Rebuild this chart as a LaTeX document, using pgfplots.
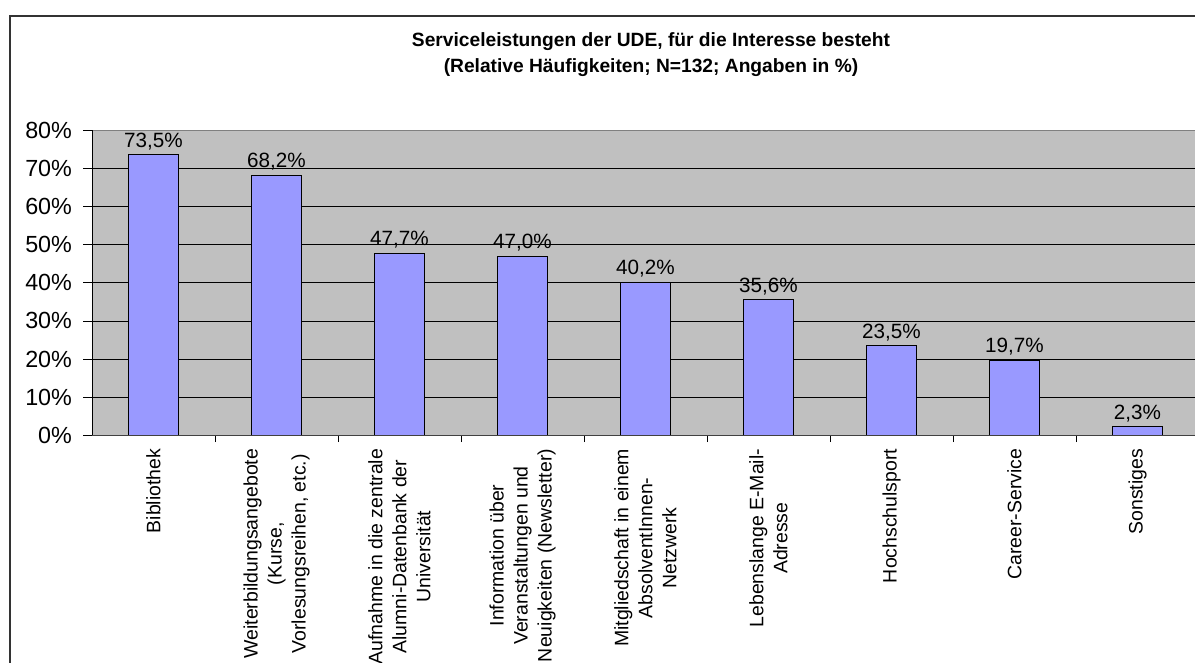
\documentclass[border=0pt]{standalone}
\usepackage{fontspec}
\setmainfont{Liberation Sans}
\usepackage{pgfplots}
\pgfplotsset{compat=1.18}
\definecolor{plotgray}{HTML}{C0C0C0}
\definecolor{barblue}{HTML}{9999FF}
\definecolor{framegray}{HTML}{808080}
\begin{document}
\begin{tikzpicture}[x=0.75pt,y=0.75pt]
\useasboundingbox (0,0) rectangle (1195,663);
\clip (0,0) rectangle (1195,663);
\fill[white] (0,0) rectangle (1195,663);
\draw[line width=1.4pt, black!80] (10,-30) -- (10,647) -- (1230,647);
\node[anchor=base, font=\bfseries\fontsize{14.4}{17}\selectfont, inner sep=0pt] at (651,616) {Serviceleistungen der UDE, für die Interesse besteht};
\node[anchor=base, font=\bfseries\fontsize{14.4}{17}\selectfont, inner sep=0pt] at (651,590) {(Relative Häufigkeiten; N=132; Angaben in \%)};
\begin{axis}[
  at={(69pt,170.625pt)}, anchor=south west, scale only axis,
  width=830.25pt, height=229.125pt,
  xmin=0, xmax=9, ymin=0, ymax=80,
  axis background/.style={fill=plotgray},
  axis line style={draw=framegray, line width=0.6pt},
  ybar, bar width=0.4,
  xtick={0.5,1.5,2.5,3.5,4.5,5.5,6.5,7.5,8.5},
  xticklabels={
    {Bibliothek},
    {Weiterbildungsangebote\\(Kurse,\\Vorlesungsreihen, etc.)},
    {Aufnahme in die zentrale\\Alumni-Datenbank der\\Universität},
    {Information über\\Veranstaltungen und\\Neuigkeiten (Newsletter)},
    {Mitgliedschaft in einem\\AbsolventInnen-\\Netzwerk},
    {Lebenslange E-Mail-\\Adresse},
    {Hochschulsport},
    {Career-Service},
    {Sonstiges}},
  minor xtick={1,2,3,4,5,6,7,8},
  major x tick style={draw=none},
  xtick pos=bottom, ytick pos=left,
  tick align=outside,
  major tick length=6.5pt, minor tick length=5pt,
  ytick={0,10,20,30,40,50,60,70,80},
  yticklabel={\pgfmathprintnumber{\tick}\%},
  ymajorgrids,
  grid style={black, line width=0.6pt},
  tick style={black, line width=0.6pt},
  /pgf/number format/assume math mode=true,
  nodes near coords={\pgfmathprintnumber[fixed,fixed zerofill,precision=1,use comma]{\pgfplotspointmeta}\%},
  nodes near coords style={font=\fontsize{15.5}{18}\selectfont, black},
  xticklabel style={rotate=90, anchor=east, align=center, font=\fontsize{14.6}{18}\selectfont},
  yticklabel style={font=\fontsize{17.5}{20}\selectfont, xshift=-5pt},
  clip=false,
]
\addplot[fill=barblue, draw=black, line width=0.6pt] coordinates {
  (0.5,73.5) (1.5,68.2) (2.5,47.7) (3.5,47.0) (4.5,40.2)
  (5.5,35.6) (6.5,23.5) (7.5,19.7) (8.5,2.3)};
\draw[black, line width=0.6pt] (rel axis cs:0,0) -- (rel axis cs:0,1);
\draw[black!75, line width=0.6pt] (rel axis cs:0,0) -- (rel axis cs:1,0);
\end{axis}
\end{tikzpicture}
\end{document}
